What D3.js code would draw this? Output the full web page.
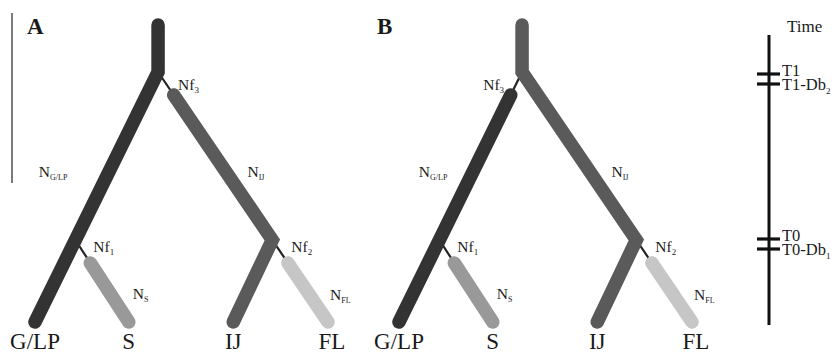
<html>
<head>
<meta charset="utf-8">
<script src="https://d3js.org/d3.v7.min.js"></script>
<style>
body { margin: 0; background: #fff; }
svg { display: block; background: #fff; }
text { font-family: "Liberation Serif", "DejaVu Serif", serif; fill: #1a1a1a; }
</style>
</head>
<body>
<script>
var width = 840,
    height = 353;

// populations (tips), left to right
var pops = ["G/LP", "S", "IJ", "FL"];
var popPos = [0, 0.96, 2.03, 3];
var popColor = ["#333333", "#999999", "#5a5a5a", "#c6c6c6"];

// event times, present = 0
var rootTime = 297;
var T1 = 250, T0 = 82;
// end of the founding bottlenecks (thin lines), where the new bars start
var barStartT1 = 227, barStartT0 = 59;
var rootPos = 1.26, elbowPos = 2.43;

// time axis on the right
var timeLabels = [["T1", ""], ["T1-Db", "2"], ["T0", ""], ["T0-Db", "1"]];
var timeValues = [248, 238, 83, 73];
var timeSpan = [287, -3];

var panels = ["A", "B"];
var panelShift = [0, 364];

var x = d3.scaleLinear().domain([0, 3]).range([35, 328]);
var y = d3.scaleLinear().domain([0, 300]).range([322, 22]);

var svg = d3.select('body').append('svg')
  .attr('width', width)
  .attr('height', height);

// point at time t on the segment a -> b, each [pos, time]
function along(a, b, t) {
  var k = (a[1] - t) / (a[1] - b[1]);
  return [a[0] + (b[0] - a[0]) * k, t];
}
function px(p) { return [x(p[0]), y(p[1])]; }

var line = d3.line().x(function (d) { return x(d[0]); }).y(function (d) { return y(d[1]); });

var rootPt = [rootPos, rootTime],
    split = [rootPos, T1],
    glpTip = [popPos[0], 0],
    nf1 = along(split, glpTip, T0),
    sTip = [popPos[1], 0],
    elbow = [elbowPos, T0],
    ijTip = [popPos[2], 0],
    flTip = [popPos[3], 0];

// label with a subscript
function subText(g, xx, yy, main, sub, size, subSize, anchor) {
  var t = g.append('text')
    .attr('x', xx)
    .attr('y', yy)
    .attr('text-anchor', anchor || 'start')
    .style('font-size', size + 'px');
  t.append('tspan').text(main);
  if (sub) {
    t.append('tspan').attr('dy', size * 0.22).style('font-size', subSize + 'px').text(sub);
  }
  return t;
}

panels.forEach(function (name, pi) {
  var g = svg.append('g').attr('transform', 'translate(' + panelShift[pi] + ',0)');
  var glpDetached = pi === 1;

  // thin bottleneck lines
  var thin = [];
  if (glpDetached) {
    thin.push([split, along(split, glpTip, barStartT1)]);
  } else {
    thin.push([split, along(split, elbow, barStartT1)]);
  }
  thin.push([nf1, along(nf1, sTip, barStartT0)]);
  thin.push([elbow, along(elbow, flTip, barStartT0)]);

  g.selectAll('.thin')
    .data(thin)
    .enter()
    .append('path')
    .attr('class', 'thin')
    .attr('d', line)
    .style('stroke', '#222')
    .style('stroke-width', 2.2)
    .style('fill', 'none');

  // thick lineages
  var bars = [];
  if (glpDetached) {
    bars.push({ pts: [along(split, glpTip, barStartT1), glpTip], c: popColor[0] });
    bars.push({ pts: [rootPt, split, elbow, ijTip], c: popColor[2] });
  } else {
    bars.push({ pts: [rootPt, split, glpTip], c: popColor[0] });
    bars.push({ pts: [along(split, elbow, barStartT1), elbow, ijTip], c: popColor[2] });
  }
  bars.push({ pts: [along(nf1, sTip, barStartT0), sTip], c: popColor[1] });
  bars.push({ pts: [along(elbow, flTip, barStartT0), flTip], c: popColor[3] });

  g.selectAll('.bar')
    .data(bars)
    .enter()
    .append('path')
    .attr('class', 'bar')
    .attr('d', function (d) { return line(d.pts); })
    .style('stroke', function (d) { return d.c; })
    .style('stroke-width', 13.5)
    .style('stroke-linecap', 'round')
    .style('stroke-linejoin', 'miter')
    .style('fill', 'none');

  // panel letter
  g.append('text')
    .attr('x', pi === 0 ? 27 : 13)
    .attr('y', 34)
    .style('font-size', '23px')
    .style('font-weight', 'bold')
    .text(name);

  // founder labels
  var s = px(split);
  if (glpDetached) {
    subText(g, s[0] - 18, s[1] + 18, 'Nf', '3', 15.5, 9, 'end');
  } else {
    subText(g, s[0] + 20, s[1] + 18, 'Nf', '3', 15.5, 9);
  }
  var n1 = px(nf1), e = px(elbow);
  subText(g, n1[0] + 18, n1[1] + 12, 'Nf', '1', 15.5, 9);
  subText(g, e[0] + 19, e[1] + 12, 'Nf', '2', 15.5, 9);

  // population size labels
  var glpMid = px(along(split, glpTip, 145));
  subText(g, glpMid[0] + (glpDetached ? -23 : -39), glpMid[1], 'N', 'G/LP', 15.5, 8, 'end');
  var ijMid = px(along(split, elbow, 145));
  subText(g, ijMid[0] + 18, ijMid[1], 'N', 'IJ', 15.5, 8);
  var sMid = px(along(nf1, sTip, 23));
  subText(g, sMid[0] + 19, sMid[1], 'N', 'S', 15.5, 8);
  var flMid = px(along(elbow, flTip, 22));
  subText(g, flMid[0] + 17, flMid[1], 'N', 'FL', 15.5, 8);

  // tip labels
  g.selectAll('.tip')
    .data(pops)
    .enter()
    .append('text')
    .attr('class', 'tip')
    .attr('x', function (d, i) { return x(popPos[i]) + (i === 3 ? 4 : 0); })
    .attr('y', 349)
    .attr('text-anchor', 'middle')
    .style('font-size', '23px')
    .text(function (d) { return d; });
});

// scale bar at the far left
svg.append('line')
  .attr('x1', 12).attr('x2', 12)
  .attr('y1', 13).attr('y2', 183)
  .style('stroke', '#333')
  .style('stroke-width', 1.3);

// time axis
var ax = 769;
var tg = svg.append('g');
tg.append('line')
  .attr('x1', ax).attr('x2', ax)
  .attr('y1', y(timeSpan[0])).attr('y2', y(timeSpan[1]))
  .style('stroke', '#111')
  .style('stroke-width', 3);

tg.selectAll('.tick')
  .data(timeValues)
  .enter()
  .append('line')
  .attr('class', 'tick')
  .attr('x1', ax - 12).attr('x2', ax + 11)
  .attr('y1', function (d) { return y(d); })
  .attr('y2', function (d) { return y(d); })
  .style('stroke', '#111')
  .style('stroke-width', 3.2);

timeValues.forEach(function (v, i) {
  var lab = timeLabels[i];
  subText(tg, ax + 13, y(v) + (i % 2 === 0 ? 2 : 6), lab[0], lab[1], 16.5, 9);
});

tg.append('text')
  .attr('x', 787)
  .attr('y', 32)
  .style('font-size', '17px')
  .text('Time');
</script>
</body>
</html>
